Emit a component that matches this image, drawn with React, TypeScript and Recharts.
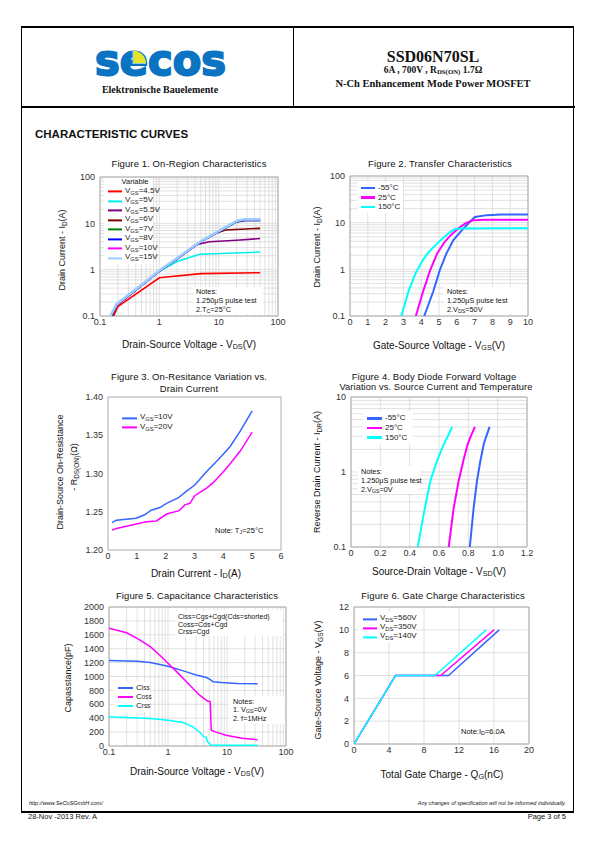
import React from "react";
import { CartesianGrid, Line, LineChart, ReferenceArea, XAxis, YAxis } from "recharts";

type Pt = { x: number; y: number };
const pts = (rows: number[][]): Pt[] => rows.map(([x, y]) => ({ x, y }));

// log-axis grid ticks: 1..9 of every decade
const logTicks = (lo: number, hi: number) => {
  const out: number[] = [];
  for (let d = lo; d < hi * 0.999; d *= 10) for (let m = 1; m < 10; m++) out.push(+(m * d).toPrecision(3));
  out.push(hi);
  return out;
};
const decadeLabels = [0.1, 1, 10, 100];
const decade = (v: number) => (decadeLabels.includes(v) ? String(v) : "");

// ---- Figure 1: ID vs VDS per VGS
const fig1Names = ["4.5V", "5V", "5.5V", "6V", "7V", "8V", "10V", "15V"];
const fig1Vgs45 = pts([[0.17, 0.1], [0.2, 0.16], [1, 0.67], [5, 0.82], [50, 0.86]]);
const fig1Vgs5 = pts([[0.16, 0.1], [0.19, 0.17], [0.5, 0.45], [1, 0.92], [2, 1.5], [4.8, 2.15], [50, 2.4]]);
const fig1Vgs55 = pts([[0.16, 0.1], [0.19, 0.17], [0.5, 0.45], [1, 0.93], [2, 1.72], [4, 3.4], [7, 4.0], [20, 4.3], [50, 4.7]]);
const fig1Vgs6 = pts([[0.16, 0.1], [0.19, 0.17], [0.5, 0.45], [1, 0.93], [2, 1.72], [5, 4.0], [9, 6.1], [13, 7.2], [50, 7.8]]);
const fig1Vgs7 = pts([[0.155, 0.1], [0.19, 0.17], [0.5, 0.45], [1, 0.93], [2, 1.72], [5, 4.0], [10, 6.6], [20, 10.6], [28, 11.5], [50, 11.6]]);
const fig1Vgs8 = pts([[0.155, 0.1], [0.19, 0.17], [0.5, 0.45], [1, 0.93], [2, 1.72], [5, 4.0], [10, 6.6], [20, 10.8], [27, 11.6], [50, 11.6]]);
const fig1Vgs10 = pts([[0.15, 0.1], [0.19, 0.17], [0.5, 0.46], [1, 0.94], [2, 1.75], [5, 4.05], [10, 6.7], [20, 11], [27, 12], [50, 12]]);
const fig1Vgs15 = pts([[0.15, 0.1], [0.19, 0.18], [0.5, 0.47], [1, 0.96], [2, 1.78], [5, 4.1], [10, 6.8], [20, 11.2], [27, 12.2], [50, 12.2]]);
const fig1Series = [fig1Vgs45, fig1Vgs5, fig1Vgs55, fig1Vgs6, fig1Vgs7, fig1Vgs8, fig1Vgs10, fig1Vgs15];
const fig1Colors = ["#ff0000", "#00f0f0", "#800080", "#800000", "#008000", "#0000ff", "#ff00ff", "#99ccff"];

// ---- Figure 2: ID vs VGS per temperature
const tempNames = ["-55°C", "25°C", "150°C"];
const fig2Cold = pts([[4.17, 0.1], [4.67, 0.33], [5.05, 0.97], [5.42, 2.2], [5.8, 4.2], [6.18, 6.2], [6.65, 9.7], [7.02, 13.2], [7.7, 14.5], [8.5, 15], [10, 15]]);
const fig2Room = pts([[3.7, 0.1], [4.1, 0.33], [4.5, 0.95], [4.9, 2.2], [5.3, 3.8], [5.7, 5.6], [6.1, 7.6], [6.5, 9.8], [6.9, 11.2], [7.5, 11.5], [10, 11.6]]);
const fig2Hot = pts([[2.88, 0.1], [3.3, 0.35], [3.7, 0.85], [4.1, 1.6], [4.4, 2.3], [4.8, 3.3], [5.2, 4.6], [5.6, 6.2], [5.9, 7.3], [6.2, 7.5], [10, 7.6]]);
const tempColors = ["#3366ff", "#ff00ff", "#00ffff"];

// ---- Figure 3: RDS(on) vs ID
const fig3Vgs10 = pts([[0.14, 1.2358], [0.29, 1.239], [0.98, 1.2415], [1.27, 1.246], [1.5, 1.252], [1.8, 1.2555], [2.03, 1.261], [2.43, 1.268], [2.66, 1.275], [3.01, 1.285], [3.42, 1.3026], [3.82, 1.318], [4.23, 1.335], [4.58, 1.355], [5.0, 1.382]]);
const fig3Vgs20 = pts([[0.14, 1.226], [0.29, 1.228], [0.87, 1.233], [1.33, 1.237], [1.68, 1.238], [2.03, 1.247], [2.47, 1.2515], [2.66, 1.259], [2.84, 1.261], [3.01, 1.271], [3.42, 1.281], [3.65, 1.288], [4.11, 1.307], [4.58, 1.329], [5.0, 1.354]]);
const fig3YTicks = [1.2, 1.25, 1.3, 1.35, 1.4];

// ---- Figure 4: IDR vs VSD per temperature
const fig4Cold = pts([[0.81, 0.1], [0.836, 0.33], [0.859, 0.76], [0.882, 1.4], [0.905, 2.34], [0.92, 2.9], [0.945, 4.0]]);
const fig4Room = pts([[0.666, 0.1], [0.7, 0.33], [0.734, 0.76], [0.768, 1.47], [0.795, 2.34], [0.82, 3.1], [0.845, 4.0]]);
const fig4Hot = pts([[0.455, 0.1], [0.495, 0.27], [0.541, 0.76], [0.586, 1.4], [0.632, 2.34], [0.66, 3.0], [0.69, 4.0]]);
const fig4XTicks = [0, 0.2, 0.4, 0.6, 0.8, 1.0, 1.2];
const fig4XLabels = ["0", "0.2", "0.4", "0.6", "0.8", "1.0", "1.2"];

// ---- Figure 5: capacitance vs VDS
const fig5Ciss = pts([[0.1, 1230], [0.3, 1218], [0.5, 1200], [1, 1148], [2, 1070], [3, 1022], [4.5, 985], [5.2, 955], [5.8, 925], [8, 912], [15, 900], [33, 895]]);
const fig5Coss = pts([[0.1, 1696], [0.2, 1630], [0.3, 1550], [0.5, 1430], [0.72, 1310], [1, 1190], [1.4, 1070], [2.3, 880], [3.4, 735], [4.6, 650], [5.2, 636], [5.4, 226], [6.5, 200], [9.6, 155], [18, 110], [33, 90]]);
const fig5Crss = pts([[0.1, 420], [0.5, 395], [1, 372], [1.8, 338], [2.6, 280], [3.4, 205], [4.0, 135], [4.4, 130], [4.7, 60], [5.2, 20], [5.7, 10], [33, 10]]);
const capNames = ["iss", "oss", "rss"];
const fig5YTicks = [0, 200, 400, 600, 800, 1000, 1200, 1400, 1600, 1800, 2000];

// ---- Figure 6: gate charge
const fig6Vds560 = pts([[0, 0], [4.75, 6], [10.8, 6], [16.6, 10]]);
const fig6Vds350 = pts([[0, 0], [4.75, 6], [9.9, 6], [16.0, 10]]);
const fig6Vds140 = pts([[0, 0], [4.75, 6], [9.25, 6], [15.1, 10]]);
const vdsNames = ["560V", "350V", "140V"];
const fig6XTicks = [0, 4, 8, 12, 16, 20];
const fig6YTicks = [0, 2, 4, 6, 8, 10, 12];

const SANS = '"Liberation Sans", Arial, sans-serif';
const SERIF = '"Liberation Serif", "Times New Roman", serif';

type AxisSpec = { domain: [number, number]; ticks: number[]; log?: boolean; fmt?: (v: number, i: number) => string; grid?: boolean };
type Series = { data: Pt[]; color: string; width?: number };
type Box = { x: number; y: number; w: number; h: number };

const ML = 40, MR = 10, MT = 10, XH = 22;

function Plot({ box, xa, ya, series }: { box: Box; xa: AxisSpec; ya: AxisSpec; series: Series[] }) {
  return (
    <div style={{ position: "absolute", left: box.x - ML, top: box.y - MT, fontFamily: SANS }}>
      <LineChart width={box.w + ML + MR} height={box.h + MT + XH} margin={{ top: MT, right: MR, bottom: 0, left: 0 }}>
        {(xa.grid || ya.grid) && (
          <CartesianGrid stroke="#d4d4d4" strokeWidth={0.7} vertical={!!xa.grid} horizontal={!!ya.grid} />
        )}
        <XAxis
          type="number"
          dataKey="x"
          scale={xa.log ? "log" : "linear"}
          domain={xa.domain}
          ticks={xa.ticks}
          interval={0}
          tickFormatter={xa.fmt}
          allowDataOverflow
          axisLine={false}
          tickLine={false}
          tickSize={2}
          tickMargin={1}
          height={XH}
          tick={{ fontSize: 9, fill: "#333" }}
        />
        <YAxis
          type="number"
          dataKey="y"
          scale={ya.log ? "log" : "linear"}
          domain={ya.domain}
          ticks={ya.ticks}
          interval={0}
          tickFormatter={ya.fmt}
          allowDataOverflow
          axisLine={false}
          tickLine={false}
          tickSize={3}
          tickMargin={2}
          width={ML}
          tick={{ fontSize: 9, fill: "#333" }}
        />
        <ReferenceArea
          x1={xa.domain[0]}
          x2={xa.domain[1]}
          y1={ya.domain[0]}
          y2={ya.domain[1]}
          fill="none"
          stroke="#9a9a9a"
          strokeWidth={0.8}
        />
        {series.map((s, i) => (
          <Line
            key={i}
            data={s.data}
            dataKey="y"
            type="linear"
            stroke={s.color}
            strokeWidth={s.width ?? 1.6}
            dot={false}
            activeDot={false}
            isAnimationActive={false}
          />
        ))}
      </LineChart>
    </div>
  );
}

const Sub = ({ children }: { children: React.ReactNode }) => (
  <span style={{ fontSize: "0.72em", verticalAlign: "-0.25em" }}>{children}</span>
);

type TP = { x: number; y: number; s?: number; a?: "l" | "c" | "r"; w?: number; it?: boolean; f?: string; rot?: boolean; ls?: number; children: React.ReactNode };
function T({ x, y, s = 9, a = "l", w = 400, it, f = SANS, rot, ls, children }: TP) {
  const tx = a === "c" || rot ? "-50%" : a === "r" ? "-100%" : "0";
  return (
    <div
      style={{
        position: "absolute",
        left: x,
        top: y,
        fontSize: s,
        fontFamily: f,
        fontWeight: w,
        fontStyle: it ? "italic" : "normal",
        letterSpacing: ls,
        whiteSpace: "nowrap",
        lineHeight: 1,
        color: "#111",
        transform: `translate(${tx},-50%)${rot ? " rotate(-90deg)" : ""}`,
      }}
    >
      {children}
    </div>
  );
}

const Blank = ({ x, y, w, h }: Box) => (
  <div style={{ position: "absolute", left: x, top: y, width: w, height: h, background: "#fff" }} />
);

function Key({ x, y, gap, sw, colors, labels, lw = 2 }: { x: number; y: number; gap: number; sw: number; colors: string[]; labels: React.ReactNode[]; lw?: number }) {
  return (
    <>
      {labels.map((lab, i) => (
        <div
          key={i}
          style={{
            position: "absolute",
            left: x,
            top: y + i * gap,
            transform: "translateY(-50%)",
            display: "flex",
            alignItems: "center",
            fontSize: 8,
            fontFamily: SANS,
            whiteSpace: "nowrap",
            color: "#222",
            lineHeight: 1,
          }}
        >
          <span style={{ display: "inline-block", width: sw, height: lw, background: colors[i], marginRight: 3 }} />
          <span>{lab}</span>
        </div>
      ))}
    </>
  );
}

const lin = (a: number, b: number) => [a, b] as [number, number];

export default function App() {
  const tempSeries = (data: Pt[][], w: number) => data.map((d, i) => ({ data: d, color: tempColors[i], width: w }));
  return (
    <div style={{ position: "absolute", left: 0, top: 0, width: 595, height: 842, background: "#fff", overflow: "hidden" }}>
      {/* page frame */}
      <div style={{ position: "absolute", left: 21, top: 26, width: 551, height: 783, border: "2px solid #000", borderLeftWidth: 1.5, borderRightWidth: 1.5 }} />
      <div style={{ position: "absolute", left: 21, top: 106, width: 554, height: 2, background: "#000" }} />
      <div style={{ position: "absolute", left: 292.5, top: 27, width: 1, height: 80, background: "#000" }} />

      {/* header logo */}
      <svg style={{ position: "absolute", left: 92, top: 30 }} width={140} height={60} overflow="visible">
        <text
          x={3}
          y={44.5}
          textLength={131}
          lengthAdjust="spacingAndGlyphs"
          fontFamily='"DejaVu Sans", sans-serif'
          fontWeight={700}
          fontSize={42}
          fill="#0a74c2"
          stroke="#0a74c2"
          strokeWidth={2}
        >
          secos
        </text>
        <path d="M41 33.5 L41 20.5 A13 13 0 0 1 54 33.5 Z" fill="#e4e42a" />
        <path d="M41 20.5 L41 33.5 L54 33.5" fill="none" stroke="#8ccbea" strokeWidth={1.2} />
      </svg>
      <T x={160} y={89.5} s={10} w={700} f={SERIF} a="c">Elektronische Bauelemente</T>
      <T x={433} y={57} s={16} w={700} f={SERIF} a="c">SSD06N70SL</T>
      <T x={433} y={71} s={9.5} w={700} f={SERIF} a="c">6A , 700V , R<Sub>DS(ON)</Sub> 1.7Ω</T>
      <T x={433} y={84} s={10.5} w={700} f={SERIF} a="c">N-Ch Enhancement Mode Power MOSFET</T>
      <T x={35} y={135} s={11.5} w={700}>CHARACTERISTIC CURVES</T>

      {/* Figure 1 */}
      <Plot
        box={{ x: 100, y: 177, w: 178, h: 139 }}
        xa={{ domain: lin(0.1, 100), ticks: logTicks(0.1, 100), log: true, fmt: decade, grid: true }}
        ya={{ domain: lin(0.1, 100), ticks: logTicks(0.1, 100), log: true, fmt: decade, grid: true }}
        series={fig1Series.map((d, i) => ({ data: d, color: fig1Colors[i], width: i === 7 ? 2.6 : 1.6 }))}
      />
      <Blank x={104} y={178} w={49} h={86} />
      <T x={135} y={181.5} s={7.5} a="c">Variable</T>
      <Key x={108} y={191.5} gap={9.5} sw={14} colors={fig1Colors} labels={fig1Names.map((n) => <>V<Sub>GS</Sub>={n}</>)} />
      <Blank x={193} y={287} w={70} h={27} />
      <T x={196} y={291.5} s={7.3}>Notes:</T>
      <T x={196} y={300.5} s={7.3}>1.250μS pulse test</T>
      <T x={196} y={309.5} s={7.3}>2.T<Sub>C</Sub>=25°C</T>
      <T x={189} y={164} s={9.5} a="c" ls={0.1}>Figure 1. On-Region Characteristics</T>
      <T x={63} y={250} s={9} rot>Drain Current  -  I<Sub>D</Sub>(A)</T>
      <T x={189} y={345} s={10} a="c">Drain-Source Voltage  -  V<Sub>DS</Sub>(V)</T>

      {/* Figure 2 */}
      <Plot
        box={{ x: 350, y: 176, w: 178, h: 140 }}
        xa={{ domain: lin(0, 10), ticks: [0, 1, 2, 3, 4, 5, 6, 7, 8, 9, 10], grid: true }}
        ya={{ domain: lin(0.1, 100), ticks: logTicks(0.1, 100), log: true, fmt: decade, grid: true }}
        series={tempSeries([fig2Cold, fig2Room, fig2Hot], 2)}
      />
      <Blank x={357} y={182} w={46} h={31} />
      <Key x={361} y={188} gap={9.5} sw={14} colors={tempColors} labels={tempNames} lw={2.5} />
      <Blank x={444} y={287} w={83} h={27} />
      <T x={447} y={291.5} s={7.3}>Notes:</T>
      <T x={447} y={300.5} s={7.3}>1.250μS pulse test</T>
      <T x={447} y={309.5} s={7.3}>2.V<Sub>DS</Sub>=50V</T>
      <T x={440} y={164} s={9.5} a="c" ls={0.1}>Figure 2. Transfer Characteristics</T>
      <T x={318} y={247} s={9} rot>Drain Current  -  I<Sub>D</Sub>(A)</T>
      <T x={439} y={346} s={10} a="c">Gate-Source Voltage -  V<Sub>GS</Sub>(V)</T>

      {/* Figure 3 */}
      <Plot
        box={{ x: 108, y: 397, w: 173, h: 153 }}
        xa={{ domain: lin(0, 6), ticks: [0, 1, 2, 3, 4, 5, 6] }}
        ya={{ domain: lin(1.2, 1.4), ticks: fig3YTicks, fmt: (v) => v.toFixed(2) }}
        series={[
          { data: fig3Vgs10, color: "#3366ff", width: 1.5 },
          { data: fig3Vgs20, color: "#ff00ff", width: 1.5 },
        ]}
      />
      <Key x={122} y={418} gap={9.5} sw={15} colors={["#3366ff", "#ff00ff"]} labels={[<>V<Sub>GS</Sub>=10V</>, <>V<Sub>GS</Sub>=20V</>]} />
      <T x={215} y={531} s={7.5}>Note: T<Sub>J</Sub>=25°C</T>
      <T x={189} y={377} s={9.5} a="c" ls={0.1}>Figure 3. On-Resitance Variation vs.</T>
      <T x={189} y={389} s={9.5} a="c" ls={0.1}>Drain Current</T>
      <T x={60} y={472} s={9} rot>Drain-Source On-Resistance</T>
      <T x={75} y={467} s={9} rot>- R<Sub>DS(ON)</Sub>(Ω)</T>
      <T x={196} y={574} s={10} a="c">Drain Current  -  I<Sub>D</Sub>(A)</T>

      {/* Figure 4 */}
      <Plot
        box={{ x: 351, y: 397, w: 176, h: 150 }}
        xa={{ domain: lin(0, 1.2), ticks: fig4XTicks, fmt: (_v, i) => fig4XLabels[i], grid: true }}
        ya={{ domain: lin(0.1, 10), ticks: logTicks(0.1, 10), log: true, fmt: decade, grid: true }}
        series={tempSeries([fig4Cold, fig4Room, fig4Hot], 2)}
      />
      <Blank x={363} y={411} w={50} h={33} />
      <Key x={367} y={418.3} gap={9.7} sw={15} colors={tempColors} labels={tempNames} lw={2.5} />
      <Blank x={358} y={466} w={62} h={28} />
      <T x={361} y={471.5} s={7.3}>Notes:</T>
      <T x={361} y={480.5} s={7.3}>1.250μS pulse test</T>
      <T x={361} y={489.5} s={7.3}>2.V<Sub>GS</Sub>=0V</T>
      <T x={434} y={377} s={9.5} a="c" ls={0.1}>Figure 4. Body Diode Forward Voltage</T>
      <T x={436} y={387.6} s={9.3} a="c" ls={0.1}>Variation vs. Source Current and Temperature</T>
      <T x={318} y={472} s={9} rot>Reverse Drain Current  -  I<Sub>DR</Sub>(A)</T>
      <T x={439} y={572} s={10} a="c">Source-Drain Voltage -  V<Sub>SD</Sub>(V)</T>

      {/* Figure 5 */}
      <Plot
        box={{ x: 109, y: 607, w: 177, h: 139 }}
        xa={{ domain: lin(0.1, 100), ticks: logTicks(0.1, 100), log: true, fmt: decade, grid: true }}
        ya={{ domain: lin(0, 2000), ticks: fig5YTicks, grid: true }}
        series={[
          { data: fig5Ciss, color: "#3366ff", width: 1.5 },
          { data: fig5Coss, color: "#ff00ff", width: 1.5 },
          { data: fig5Crss, color: "#00ffff", width: 1.5 },
        ]}
      />
      <Blank x={175} y={610} w={108} h={26} />
      <T x={178} y={616} s={7}>Ciss=Cgs+Cgd(Cds=shorted)</T>
      <T x={178} y={623.5} s={7}>Coss=Cds+Cgd</T>
      <T x={178} y={631} s={7}>Crss=Cgd</T>
      <Blank x={114} y={682} w={36} h={30} />
      <Key x={118} y={688} gap={9} sw={15} colors={["#3366ff", "#ff00ff", "#00ffff"]} labels={capNames.map((n) => <>C<span style={{ fontSize: "0.8em" }}>{n}</span></>)} />
      <Blank x={229} y={696} w={56} h={28} />
      <T x={233} y={701.5} s={7.3}>Notes:</T>
      <T x={233} y={710} s={7.3}>1. V<Sub>GS</Sub>=0V</T>
      <T x={233} y={718.5} s={7.3}>2. f=1MHz</T>
      <T x={197} y={596} s={9.5} a="c" ls={0.1}>Figure 5. Capacitance Characteristics</T>
      <T x={68} y={678} s={9} rot>Capasstance(pF)</T>
      <T x={197} y={772} s={10} a="c">Drain-Source Voltage  -  V<Sub>DS</Sub>(V)</T>

      {/* Figure 6 */}
      <Plot
        box={{ x: 354, y: 607, w: 175, h: 137 }}
        xa={{ domain: lin(0, 20), ticks: fig6XTicks, grid: true }}
        ya={{ domain: lin(0, 12), ticks: fig6YTicks, grid: true }}
        series={[
          { data: fig6Vds560, color: "#3366ff", width: 1.5 },
          { data: fig6Vds350, color: "#ff00ff", width: 1.5 },
          { data: fig6Vds140, color: "#00ffff", width: 1.5 },
        ]}
      />
      <Blank x={359} y={612} w={55} h={30} />
      <Key x={363} y={619} gap={9.2} sw={14} colors={["#3366ff", "#ff00ff", "#00ffff"]} labels={vdsNames.map((n) => <>V<Sub>DS</Sub>={n}</>)} />
      <T x={461} y={732} s={7.5}>Note:I<Sub>D</Sub>=6.0A</T>
      <T x={443} y={596} s={9.5} a="c" ls={0.1}>Figure 6. Gate Charge Characteristics</T>
      <T x={319} y={680} s={9} rot>Gate-Source Voltage - V<Sub>GS</Sub>(V)</T>
      <T x={442} y={775} s={10} a="c">Total Gate Charge  -  Q<Sub>G</Sub>(nC)</T>

      {/* footer */}
      <T x={29} y={804} s={5.5} it>http://www.SeCoSGmbH.com/</T>
      <T x={566} y={804} s={5.5} it a="r">Any changes of specification will not be informed individually.</T>
      <T x={28} y={817} s={7.5}>28-Nov -2013 Rev. A</T>
      <T x={566} y={817} s={7.5} a="r">Page 3  of  5</T>
    </div>
  );
}
